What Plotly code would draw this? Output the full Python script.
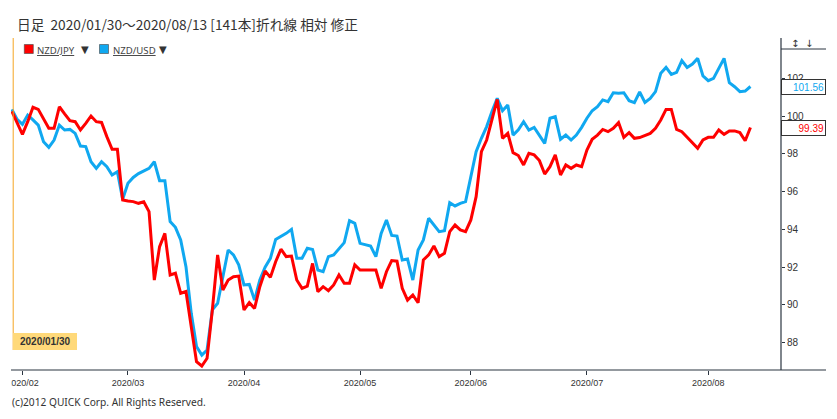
import plotly.graph_objects as go
import pandas as pd

# ---- data ----
dates = pd.bdate_range("2020-01-30", "2020-08-13")  # 141 daily bars

nzd_jpy = [
    100.25, 99.61, 99.03, 99.70, 100.46, 100.35, 99.82, 99.35, 99.35, 100.49,
    100.11, 99.75, 99.70, 99.26, 99.61, 100.00, 99.70, 99.66, 98.91, 98.24,
    98.24, 95.56, 95.50, 95.47, 95.38, 95.46, 94.94, 91.32, 93.09, 93.79,
    91.59, 91.68, 90.62, 90.71, 88.85, 87.00, 86.77, 87.18, 89.74, 92.65,
    90.79, 91.32, 91.50, 91.53, 89.74, 90.12, 89.82, 90.97, 91.80, 91.46,
    92.29, 92.95, 92.56, 92.59, 91.32, 90.88, 91.00, 92.20, 90.70, 90.97,
    90.76, 91.06, 91.59, 91.15, 91.15, 92.12, 91.85, 91.85, 91.85, 91.85,
    90.88, 91.76, 92.35, 92.32, 90.88, 90.26, 90.53, 90.12, 92.38, 92.65,
    93.12, 92.56, 92.73, 93.88, 94.23, 93.97, 93.88, 94.50, 95.73, 98.11,
    98.73, 99.79, 100.88, 98.82, 99.08, 98.06, 97.91, 97.41, 98.02, 97.94,
    97.64, 96.93, 97.32, 97.94, 96.88, 97.41, 97.23, 97.41, 97.32, 98.20,
    98.77, 98.99, 99.29, 99.17, 99.35, 99.65, 98.87, 99.12, 98.82, 98.86,
    98.96, 99.08, 99.35, 99.79, 100.35, 100.35, 99.29, 99.17, 98.87, 98.55,
    98.29, 98.73, 98.87, 98.87, 99.26, 99.03, 99.21, 99.21, 99.12, 98.69,
    99.39,
]

nzd_usd = [
    100.35, 99.82, 99.56, 100.05, 99.79, 99.52, 98.64, 98.34, 98.73, 99.52,
    99.26, 99.29, 99.08, 98.41, 98.38, 97.58, 97.23, 97.58, 97.32, 96.88,
    97.05, 95.59, 96.44, 96.75, 96.95, 97.11, 97.23, 97.58, 96.58, 96.58,
    94.41, 94.11, 93.44, 92.03, 89.56, 87.80, 87.35, 87.62, 89.74, 90.09,
    91.50, 92.91, 92.65, 92.12, 91.06, 91.09, 90.26, 91.32, 92.00, 92.47,
    93.47, 93.62, 93.79, 94.00, 92.47, 92.47, 93.00, 92.94, 91.85, 91.76,
    92.56, 92.65, 93.00, 93.30, 94.46, 94.32, 93.26, 93.17, 93.12, 92.56,
    93.79, 94.50, 93.68, 93.65, 92.38, 92.43, 91.32, 92.91, 93.44, 94.59,
    94.23, 93.88, 93.93, 95.41, 95.24, 95.38, 95.47, 96.79, 98.11, 98.82,
    99.44, 100.23, 100.93, 100.28, 100.58, 98.99, 99.27, 99.70, 99.26, 99.40,
    98.99, 98.55, 99.88, 99.96, 98.77, 98.99, 98.73, 98.99, 99.40, 99.88,
    100.28, 100.49, 100.85, 100.76, 101.23, 101.20, 101.23, 100.81, 100.71, 101.27,
    100.72, 100.93, 101.29, 102.26, 102.57, 102.20, 102.31, 102.93, 102.57, 102.75,
    103.05, 102.12, 101.87, 101.99, 102.52, 103.05, 101.76, 101.55, 101.29, 101.32,
    101.56,
]

tick_dates = ["2020-02-03", "2020-03-02", "2020-04-01", "2020-05-01",
              "2020-06-01", "2020-07-01", "2020-08-03"]
tick_labels = ["2020/02", "2020/03", "2020/04", "2020/05",
               "2020/06", "2020/07", "2020/08"]
y_ticks = [88, 90, 92, 94, 96, 98, 100, 102]

title_text = "日足  2020/01/30〜2020/08/13 [141本]折れ線 相対 修正"
copyright_text = "(c)2012 QUICK Corp. All Rights Reserved."
series_names = ["NZD/JPY", "NZD/USD"]

RED = "#ff0000"
BLUE = "#10a8f0"
AXIS = "#2a3440"
TXT = "#333333"

# ---- geometry helpers (pixel -> paper) ----
W, H = 837, 419
L, R, T, B = 11, 781, 49, 370
def px(X):
    return (X - L) / (R - L)
def py(Y):
    return (B - Y) / (B - T)

fig = go.Figure()
fig.add_trace(go.Scatter(x=dates, y=nzd_usd, mode="lines", name=series_names[1],
                         line=dict(color=BLUE, width=3), showlegend=False))
fig.add_trace(go.Scatter(x=dates, y=nzd_jpy, mode="lines", name=series_names[0],
                         line=dict(color=RED, width=3), showlegend=False))

shapes = []
# bottom axis line (extends under the price scale)
shapes.append(dict(type="line", xref="paper", yref="paper", x0=0, x1=px(826),
                   y0=0, y1=0, line=dict(color=AXIS, width=1.2), layer="above"))
# right axis line (extends above plot)
shapes.append(dict(type="line", xref="paper", yref="paper", x0=1, x1=1,
                   y0=0, y1=py(38), line=dict(color=AXIS, width=1.2), layer="above"))
# top line of scale area
shapes.append(dict(type="line", xref="paper", yref="paper", x0=1, x1=px(826),
                   y0=1, y1=1, line=dict(color=AXIS, width=1), layer="above"))
# cursor line (orange)
shapes.append(dict(type="line", xref="paper", yref="paper", x0=px(13.2), x1=px(13.2),
                   y0=py(350), y1=py(38), line=dict(color="#f5a623", width=1), layer="above"))
# cursor date box
shapes.append(dict(type="rect", xref="paper", yref="paper", x0=px(13), x1=px(77),
                   y0=py(350), y1=py(333), fillcolor="#ffd97a", line=dict(width=0), layer="above"))
# clip the first x tick label at the plot's left edge
shapes.append(dict(type="rect", xref="paper", yref="paper", x0=px(0), x1=px(11.3),
                   y0=py(372), y1=py(392), fillcolor="white", line=dict(width=0), layer="above"))
# legend swatches
shapes.append(dict(type="rect", xref="paper", yref="paper", x0=px(24.3), x1=px(33.3),
                   y0=py(53.5), y1=py(44.5), fillcolor=RED, line=dict(color="#444", width=0.6), layer="above"))
shapes.append(dict(type="rect", xref="paper", yref="paper", x0=px(99.5), x1=px(108.5),
                   y0=py(53.5), y1=py(44.5), fillcolor=BLUE, line=dict(color="#444", width=0.6), layer="above"))

ann = []
ann.append(dict(text=title_text, xref="paper", yref="paper", x=px(15), y=py(24),
                xanchor="left", yanchor="middle", showarrow=False,
                font=dict(family="Noto Sans CJK JP", size=13.7, color=TXT)))
ann.append(dict(text=copyright_text, xref="paper", yref="paper", x=px(9.5), y=py(402),
                xanchor="left", yanchor="middle", showarrow=False,
                font=dict(family="Noto Sans", size=10.2, color=TXT)))
# legend labels
ann.append(dict(text="<u>" + series_names[0] + "</u>", xref="paper", yref="paper", x=px(35), y=py(50),
                xanchor="left", yanchor="middle", showarrow=False,
                font=dict(family="Noto Sans", size=9.6, color="#444")))
ann.append(dict(text="▼", xref="paper", yref="paper", x=px(85), y=py(49),
                xanchor="center", yanchor="middle", showarrow=False,
                font=dict(family="DejaVu Sans", size=10, color="#333")))
ann.append(dict(text="<u>" + series_names[1] + "</u>", xref="paper", yref="paper", x=px(110.5), y=py(50),
                xanchor="left", yanchor="middle", showarrow=False,
                font=dict(family="Noto Sans", size=9.6, color="#444")))
ann.append(dict(text="▼", xref="paper", yref="paper", x=px(162.5), y=py(49),
                xanchor="center", yanchor="middle", showarrow=False,
                font=dict(family="DejaVu Sans", size=10, color="#333")))
# cursor date label
ann.append(dict(text="<b>2020/01/30</b>", xref="paper", yref="paper", x=px(45), y=py(341.5),
                xanchor="center", yanchor="middle", showarrow=False,
                font=dict(family="Liberation Sans", size=10, color=TXT)))
# scale buttons
ann.append(dict(text="↕", xref="paper", yref="paper", x=px(795), y=py(43),
                xanchor="center", yanchor="middle", showarrow=False,
                font=dict(family="DejaVu Sans", size=10, color=TXT)))
ann.append(dict(text="↓", xref="paper", yref="paper", x=px(809), y=py(43),
                xanchor="center", yanchor="middle", showarrow=False,
                font=dict(family="DejaVu Sans", size=10, color=TXT)))
# last value boxes
for val, col in [(nzd_usd[-1], BLUE), (nzd_jpy[-1], RED)]:
    ann.append(dict(text=f"{val:.2f}", xref="paper", yref="y", x=1, y=val,
                    xanchor="left", yanchor="middle", showarrow=False,
                    width=41, height=12, align="right", borderpad=1,
                    bgcolor="white", bordercolor=TXT, borderwidth=1,
                    font=dict(family="Liberation Sans", size=10, color=col)))

fig.update_layout(
    width=W, height=H,
    margin=dict(l=L, r=W - R, t=T, b=H - B, autoexpand=False),
    paper_bgcolor="white", plot_bgcolor="white",
    shapes=shapes, annotations=ann,
    hovermode=False,
)
fig.update_xaxes(
    type="date",
    range=["2020-01-29 20:00", "2020-08-20 19:00"],
    rangebreaks=[dict(bounds=["sat", "mon"])],
    tickvals=tick_dates, ticktext=tick_labels,
    ticks="outside", ticklen=4, tickcolor=AXIS, tickwidth=1,
    showline=False, showgrid=False, zeroline=False,
    tickfont=dict(family="Liberation Sans", size=9, color=TXT),
)
fig.update_yaxes(
    side="right", range=[86.56, 103.545],
    tickvals=y_ticks, ticktext=[str(v) for v in y_ticks],
    ticks="outside", ticklen=3, tickcolor=AXIS, tickwidth=1,
    showline=False, showgrid=False, zeroline=False,
    tickfont=dict(family="Liberation Sans", size=10, color=TXT),
)

fig.write_html("out.html")
